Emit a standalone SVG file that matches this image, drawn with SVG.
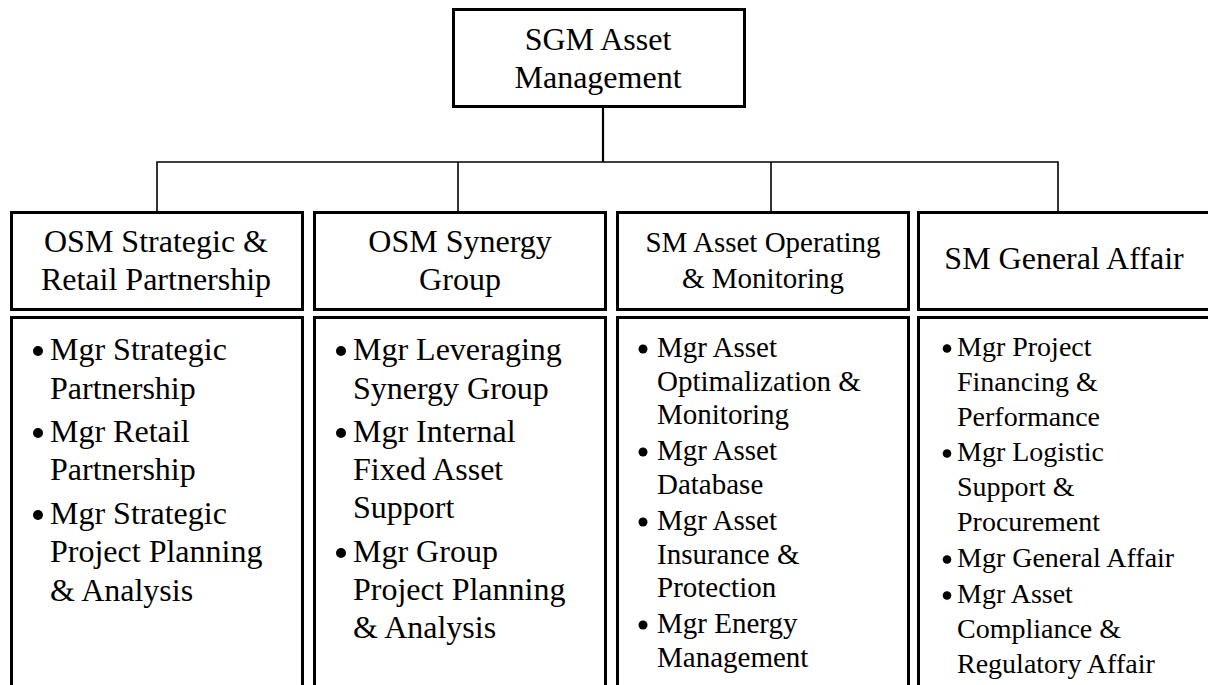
<svg xmlns="http://www.w3.org/2000/svg" width="1208" height="685" viewBox="0 0 1208 685">
  <style>
    .box { fill: #ffffff; stroke: #000000; stroke-width: 3; }
    .wire { fill: none; stroke: #000000; stroke-width: 1.6; }
    .t { font-family: "Liberation Serif", "Times New Roman", serif; fill: #000000; }
    .c { text-anchor: middle; }
    .f32 { font-size: 32px; }
    .f29 { font-size: 29px; }
    .f28 { font-size: 28px; }
    .dot { fill: #000000; }
  </style>
  <rect width="1208" height="685" fill="#ffffff"/>

  <!-- connectors -->
  <g id="connectors">
    <line class="wire" x1="603" y1="108" x2="603" y2="162" style="stroke-width:2.2"/>
    <polyline class="wire" points="157,211 157,162 1058,162 1058,211"/>
    <line class="wire" x1="458" y1="162" x2="458" y2="211"/>
    <line class="wire" x1="771" y1="162" x2="771" y2="211"/>
  </g>

  <!-- head unit -->
  <g id="sgm">
    <rect class="box" x="453.5" y="9.5" width="291" height="97"/>
    <text class="t c f32" x="598" y="50">SGM Asset</text>
    <text class="t c f32" x="598" y="88">Management</text>
  </g>

  <!-- unit 1 -->
  <g id="osm-strategic">
    <rect class="box" x="11.5" y="212.5" width="291" height="97"/>
    <text class="t c f32" x="156" y="252">OSM Strategic &amp;</text>
    <text class="t c f32" x="156" y="290">Retail Partnership</text>
  </g>
  <g id="osm-strategic-list">
    <rect class="box" x="11.5" y="317.5" width="291" height="400"/>
    <circle class="dot" cx="38" cy="351" r="5"/>
    <circle class="dot" cx="38" cy="433" r="5"/>
    <circle class="dot" cx="38" cy="515" r="5"/>
    <text class="t f32" x="50">
      <tspan x="50" y="360">Mgr Strategic</tspan>
      <tspan x="50" y="399">Partnership</tspan>
      <tspan x="50" y="442">Mgr Retail</tspan>
      <tspan x="50" y="480">Partnership</tspan>
      <tspan x="50" y="524">Mgr Strategic</tspan>
      <tspan x="50" y="562">Project Planning</tspan>
      <tspan x="50" y="601">&amp; Analysis</tspan>
    </text>
  </g>

  <!-- unit 2 -->
  <g id="osm-synergy">
    <rect class="box" x="314.5" y="212.5" width="291" height="97"/>
    <text class="t c f32" x="460" y="252">OSM Synergy</text>
    <text class="t c f32" x="460" y="290">Group</text>
  </g>
  <g id="osm-synergy-list">
    <rect class="box" x="314.5" y="317.5" width="291" height="400"/>
    <circle class="dot" cx="341" cy="351" r="5"/>
    <circle class="dot" cx="341" cy="433" r="5"/>
    <circle class="dot" cx="341" cy="553" r="5"/>
    <text class="t f32">
      <tspan x="353" y="360">Mgr Leveraging</tspan>
      <tspan x="353" y="399">Synergy Group</tspan>
      <tspan x="353" y="442">Mgr Internal</tspan>
      <tspan x="353" y="480">Fixed Asset</tspan>
      <tspan x="353" y="518">Support</tspan>
      <tspan x="353" y="562">Mgr Group</tspan>
      <tspan x="353" y="600">Project Planning</tspan>
      <tspan x="353" y="638">&amp; Analysis</tspan>
    </text>
  </g>

  <!-- unit 3 -->
  <g id="sm-operating">
    <rect class="box" x="617.5" y="212.5" width="291" height="97"/>
    <text class="t c f29" x="763" y="252">SM Asset Operating</text>
    <text class="t c f29" x="763" y="288">&amp; Monitoring</text>
  </g>
  <g id="sm-operating-list">
    <rect class="box" x="617.5" y="317.5" width="291" height="400"/>
    <circle class="dot" cx="643" cy="349" r="4.5"/>
    <circle class="dot" cx="643" cy="452" r="4.5"/>
    <circle class="dot" cx="643" cy="522" r="4.5"/>
    <circle class="dot" cx="643" cy="625" r="4.5"/>
    <text class="t f29">
      <tspan x="657" y="357">Mgr Asset</tspan>
      <tspan x="657" y="390.5">Optimalization &amp;</tspan>
      <tspan x="657" y="424">Monitoring</tspan>
      <tspan x="657" y="460">Mgr Asset</tspan>
      <tspan x="657" y="493.5">Database</tspan>
      <tspan x="657" y="530">Mgr Asset</tspan>
      <tspan x="657" y="563.5">Insurance &amp;</tspan>
      <tspan x="657" y="597">Protection</tspan>
      <tspan x="657" y="633">Mgr Energy</tspan>
      <tspan x="657" y="666.5">Management</tspan>
    </text>
  </g>

  <!-- unit 4 -->
  <g id="sm-general">
    <rect class="box" x="918.5" y="212.5" width="291" height="97"/>
    <text class="t c f32" x="1064" y="269">SM General Affair</text>
  </g>
  <g id="sm-general-list">
    <rect class="box" x="918.5" y="317.5" width="291" height="400"/>
    <circle class="dot" cx="947" cy="348.5" r="4.3"/>
    <circle class="dot" cx="947" cy="453.5" r="4.3"/>
    <circle class="dot" cx="947" cy="559.5" r="4.3"/>
    <circle class="dot" cx="947" cy="595.5" r="4.3"/>
    <text class="t f28">
      <tspan x="957" y="356">Mgr Project</tspan>
      <tspan x="957" y="391">Financing &amp;</tspan>
      <tspan x="957" y="426">Performance</tspan>
      <tspan x="957" y="461">Mgr Logistic</tspan>
      <tspan x="957" y="496">Support &amp;</tspan>
      <tspan x="957" y="531">Procurement</tspan>
      <tspan x="957" y="567">Mgr General Affair</tspan>
      <tspan x="957" y="603">Mgr Asset</tspan>
      <tspan x="957" y="638">Compliance &amp;</tspan>
      <tspan x="957" y="673">Regulatory Affair</tspan>
    </text>
  </g>
</svg>
